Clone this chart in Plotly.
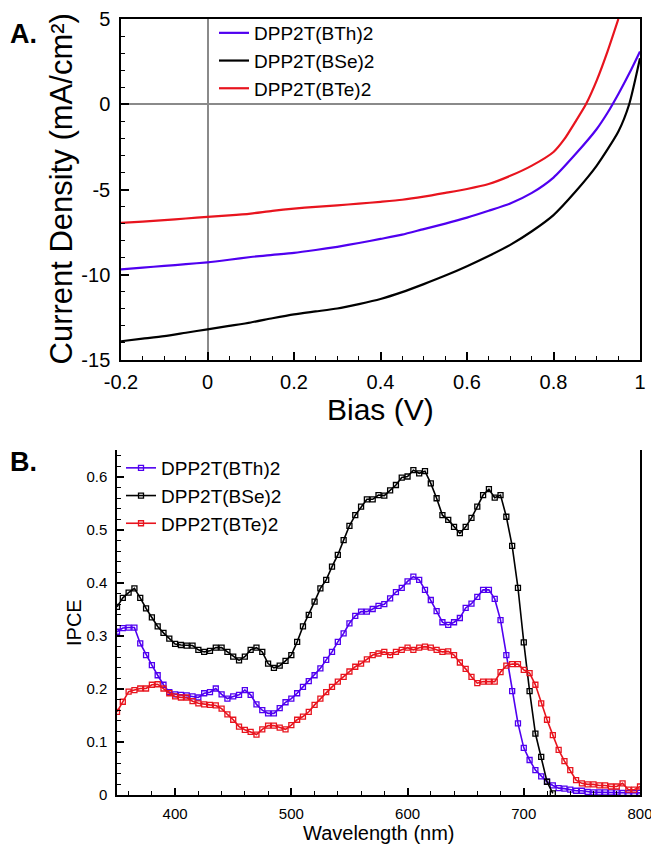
import plotly.graph_objects as go

# ---------------- Panel A data (J-V) ----------------
series_names = ["DPP2T(BTh)2", "DPP2T(BSe)2", "DPP2T(BTe)2"]

v_bth = [-0.2, -0.15, -0.1, -0.05, 0, 0.05, 0.1, 0.15, 0.2, 0.25, 0.3, 0.35, 0.4, 0.45,
         0.5, 0.55, 0.6, 0.65, 0.7, 0.75, 0.8, 0.85, 0.9, 0.925, 0.95, 0.975, 1.0]
j_bth = [-9.68, -9.58, -9.48, -9.38, -9.27, -9.12, -8.96, -8.84, -8.72, -8.55, -8.36, -8.14, -7.9, -7.65,
         -7.32, -7.0, -6.65, -6.25, -5.82, -5.2, -4.3, -2.95, -1.45, -0.5, 0.6, 1.8, 3.1]

v_bse = [-0.2, -0.15, -0.1, -0.05, 0, 0.05, 0.1, 0.15, 0.2, 0.25, 0.3, 0.35, 0.4, 0.45,
         0.5, 0.55, 0.6, 0.65, 0.7, 0.75, 0.8, 0.85, 0.9, 0.95, 0.975, 1.0]
j_bse = [-13.9, -13.75, -13.6, -13.4, -13.2, -13.0, -12.8, -12.55, -12.32, -12.15, -11.98, -11.72, -11.42, -11.02,
         -10.55, -10.05, -9.5, -8.9, -8.25, -7.45, -6.5, -5.15, -3.6, -1.6, 0.0, 2.7]

v_bte = [-0.2, -0.15, -0.1, -0.05, 0, 0.05, 0.1, 0.15, 0.2, 0.25, 0.3, 0.35, 0.4, 0.45,
         0.5, 0.55, 0.6, 0.65, 0.7, 0.75, 0.8, 0.825, 0.85, 0.875, 0.9, 0.925, 0.95]
j_bte = [-6.96, -6.88, -6.8, -6.7, -6.61, -6.52, -6.41, -6.25, -6.12, -6.02, -5.93, -5.83, -5.72, -5.6,
         -5.42, -5.2, -4.97, -4.68, -4.2, -3.6, -2.8, -2.05, -1.05, 0.0, 1.4, 3.1, 5.0]

a_xticks = [-0.2, 0, 0.2, 0.4, 0.6, 0.8, 1.0]
a_xticktext = ["-0.2", "0", "0.2", "0.4", "0.6", "0.8", "1"]
a_yticks = [-15, -10, -5, 0, 5]
a_yticktext = ["-15", "-10", "-5", "0", "5"]

# ---------------- Panel B data (IPCE) ----------------
wl = list(range(350, 805, 5))

ipce_bth = [0.308, 0.315, 0.316, 0.316, 0.286, 0.264, 0.245, 0.226, 0.208, 0.194,
            0.190, 0.189, 0.188, 0.186, 0.184, 0.192, 0.194, 0.201, 0.190, 0.182,
            0.186, 0.189, 0.198, 0.189, 0.171, 0.160, 0.154, 0.154, 0.164, 0.175,
            0.182, 0.192, 0.204, 0.215, 0.226, 0.239, 0.255, 0.270, 0.289, 0.305,
            0.324, 0.338, 0.346, 0.346, 0.351, 0.357, 0.360, 0.371, 0.383, 0.391,
            0.403, 0.412, 0.406, 0.387, 0.368, 0.347, 0.326, 0.321, 0.326, 0.334,
            0.353, 0.361, 0.374, 0.387, 0.387, 0.370, 0.330, 0.264, 0.196, 0.135,
            0.089, 0.066, 0.047, 0.035, 0.025, 0.018, 0.013, 0.012, 0.010, 0.008,
            0.008, 0.006, 0.005, 0.005, 0.005, 0.005, 0.005, 0.004, 0.004, 0.004,
            0.004]

wl_bse = list(range(350, 730, 5))
ipce_bse = [0.355, 0.372, 0.382, 0.390, 0.372, 0.352, 0.335, 0.318, 0.306, 0.295,
            0.285, 0.283, 0.282, 0.282, 0.274, 0.270, 0.272, 0.278, 0.278, 0.270,
            0.261, 0.254, 0.261, 0.274, 0.278, 0.270, 0.248, 0.240, 0.244, 0.253,
            0.264, 0.289, 0.318, 0.340, 0.365, 0.390, 0.406, 0.431, 0.453, 0.481,
            0.508, 0.528, 0.544, 0.558, 0.558, 0.566, 0.565, 0.575, 0.585, 0.599,
            0.601, 0.613, 0.607, 0.611, 0.588, 0.560, 0.528, 0.519, 0.506, 0.494,
            0.506, 0.523, 0.544, 0.566, 0.577, 0.561, 0.566, 0.525, 0.470, 0.391,
            0.288, 0.196, 0.116, 0.072, 0.025, 0.003]

ipce_bte = [0.157, 0.176, 0.195, 0.198, 0.201, 0.201, 0.208, 0.209, 0.201, 0.192,
            0.186, 0.184, 0.184, 0.177, 0.173, 0.171, 0.170, 0.169, 0.163, 0.152,
            0.142, 0.129, 0.123, 0.119, 0.114, 0.124, 0.131, 0.131, 0.127, 0.124,
            0.132, 0.142, 0.148, 0.157, 0.170, 0.182, 0.194, 0.204, 0.214, 0.223,
            0.233, 0.242, 0.248, 0.256, 0.264, 0.267, 0.270, 0.264, 0.270, 0.274,
            0.278, 0.274, 0.278, 0.280, 0.278, 0.274, 0.270, 0.271, 0.264, 0.250,
            0.238, 0.223, 0.211, 0.214, 0.214, 0.214, 0.232, 0.244, 0.247, 0.247,
            0.236, 0.230, 0.208, 0.173, 0.142, 0.113, 0.085, 0.064, 0.047, 0.028,
            0.022, 0.020, 0.020, 0.018, 0.018, 0.016, 0.016, 0.022, 0.010, 0.010,
            0.016]

b_xticks = [400, 500, 600, 700, 800]
b_yticks = [0, 0.1, 0.2, 0.3, 0.4, 0.5, 0.6]
b_yticktext = ["0", "0.1", "0.2", "0.3", "0.4", "0.5", "0.6"]

colors = ["#5000F0", "#000000", "#E8141E"]

FONT = "Liberation Sans, Arial, Helvetica, sans-serif"
W, H = 651, 846

fig = go.Figure()

# Panel A traces
for v, j, name, c in [(v_bth, j_bth, series_names[0], colors[0]),
                      (v_bse, j_bse, series_names[1], colors[1]),
                      (v_bte, j_bte, series_names[2], colors[2])]:
    fig.add_trace(go.Scatter(x=v, y=j, mode="lines", name=name,
                             line=dict(color=c, width=2.2, shape="spline", smoothing=0.6),
                             xaxis="x", yaxis="y", legend="legend"))

# Panel B traces
for x, y, name, c in [(wl, ipce_bth, series_names[0], colors[0]),
                      (wl_bse, ipce_bse, series_names[1], colors[1]),
                      (wl, ipce_bte, series_names[2], colors[2])]:
    fig.add_trace(go.Scatter(x=x, y=y, mode="lines+markers", name=name,
                             line=dict(color=c, width=1.6),
                             marker=dict(symbol="square-open", size=5, color=c, line=dict(width=1.3, color=c)),
                             xaxis="x2", yaxis="y2", legend="legend2", cliponaxis=True))

def px_x(p):
    return p / W

def px_y(p):
    return 1 - p / H

axis_common = dict(showgrid=False, linecolor="black", linewidth=1.5, mirror=True,
                   ticks="inside", tickcolor="black", showline=True)

fig.update_layout(
    width=W, height=H,
    margin=dict(l=0, r=0, t=0, b=0, pad=0, autoexpand=False),
    paper_bgcolor="white", plot_bgcolor="white",
    font=dict(family=FONT, color="black"),
    xaxis=dict(domain=[px_x(121), px_x(640)], anchor="y", range=[-0.2, 1.0],
               tickvals=a_xticks, ticktext=a_xticktext, ticklen=8, tickwidth=1.5,
               tickfont=dict(size=20), ticklabelstandoff=3, ticklabeloverflow="allow",
               minor=dict(dtick=0.05, ticks="inside", ticklen=4, tickcolor="black", tickwidth=1.2),
               zeroline=True, zerolinecolor="#8a8a8a", zerolinewidth=2,
               **axis_common),
    yaxis=dict(domain=[px_y(360), px_y(19)], anchor="x", range=[-15, 5],
               tickvals=a_yticks, ticktext=a_yticktext, ticklen=8, tickwidth=1.5,
               tickfont=dict(size=20), ticklabelstandoff=5,
               minor=dict(dtick=1, ticks="inside", ticklen=4, tickcolor="black", tickwidth=1.2),
               zeroline=True, zerolinecolor="#8a8a8a", zerolinewidth=2,
               **axis_common),
    xaxis2=dict(domain=[px_x(117), px_x(640)], anchor="y2", range=[350, 800],
                tickvals=b_xticks, ticklen=7, tickwidth=1.5,
                tickfont=dict(size=15), ticklabelstandoff=4, ticklabeloverflow="allow",
                minor=dict(dtick=20, tick0=0, ticks="inside", ticklen=4, tickcolor="black", tickwidth=1.2),
                zeroline=False, showgrid=False, linecolor="black", linewidth=1.5, mirror=False,
                ticks="inside", tickcolor="black", showline=True),
    yaxis2=dict(domain=[px_y(795), px_y(450)], anchor="x2", range=[0, 0.651],
                tickvals=b_yticks, ticktext=b_yticktext, ticklen=7, tickwidth=1.5,
                tickfont=dict(size=15), ticklabelstandoff=5,
                minor=dict(dtick=0.02, ticks="inside", ticklen=4, tickcolor="black", tickwidth=1.2),
                zeroline=False, showgrid=False, linecolor="black", linewidth=1.5, mirror=True,
                ticks="inside", tickcolor="black", showline=True),
    legend=dict(x=px_x(214), y=px_y(14), xanchor="left", yanchor="top",
                bgcolor="rgba(0,0,0,0)", borderwidth=0, font=dict(size=19),
                itemwidth=30, tracegroupgap=0),
    legend2=dict(x=px_x(121), y=px_y(449), xanchor="left", yanchor="top",
                 bgcolor="rgba(0,0,0,0)", borderwidth=0, font=dict(size=19),
                 itemwidth=30, tracegroupgap=0),
    showlegend=True,
    annotations=[
        dict(text="<b>A.</b>", x=px_x(8), y=px_y(34), xref="paper", yref="paper",
             xanchor="left", yanchor="middle", showarrow=False, font=dict(size=27)),
        dict(text="<b>B.</b>", x=px_x(8), y=px_y(462), xref="paper", yref="paper",
             xanchor="left", yanchor="middle", showarrow=False, font=dict(size=27)),
        dict(text="Current Density (mA/cm²)", x=px_x(61), y=px_y(189.5), xref="paper", yref="paper",
             xanchor="center", yanchor="middle", textangle=-90, showarrow=False, font=dict(size=31)),
        dict(text="Bias (V)", x=px_x(380.5), y=px_y(410), xref="paper", yref="paper",
             xanchor="center", yanchor="middle", showarrow=False, font=dict(size=30)),
        dict(text="IPCE", x=px_x(74), y=px_y(623), xref="paper", yref="paper",
             xanchor="center", yanchor="middle", textangle=-90, showarrow=False, font=dict(size=20)),
        dict(text="Wavelength (nm)", x=px_x(378.5), y=px_y(833), xref="paper", yref="paper",
             xanchor="center", yanchor="middle", showarrow=False, font=dict(size=20)),
    ],
)

fig.write_html("out.html",
               config={"displayModeBar": False},
               post_script="document.body.style.margin='0';document.body.style.overflow='hidden';")
